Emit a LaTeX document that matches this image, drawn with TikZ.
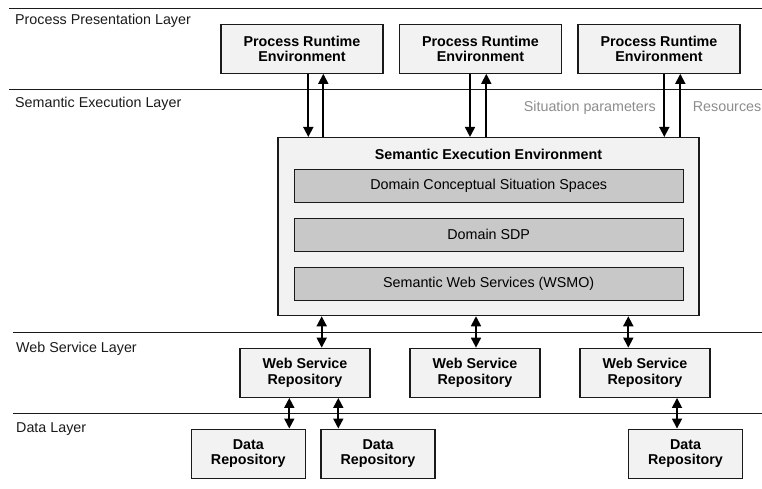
\documentclass[tikz,border=0pt]{standalone}
\usepackage{fontspec}
\setmainfont{Liberation Sans}
\usetikzlibrary{arrows.meta}
\definecolor{boxfill}{HTML}{F2F2F2}
\definecolor{innerfill}{HTML}{C8C8C8}
\definecolor{labgray}{HTML}{8C8C8C}
\definecolor{linec}{HTML}{1A1A1A}
\begin{document}
\begin{tikzpicture}[x=1pt,y=-1pt,
  box/.style={draw=linec, line width=1.3pt, fill=boxfill, inner sep=0pt, align=center,
    font=\bfseries\fontsize{14.3}{15.5}\selectfont},
  innerbox/.style={draw=linec, line width=1.3pt, fill=innerfill, inner sep=0pt,
    minimum width=389pt, minimum height=33pt, font=\fontsize{14.3}{16}\selectfont},
  title/.style={inner sep=0pt, font=\bfseries\fontsize{14.3}{16}\selectfont},
  lbl/.style={inner sep=0pt, text=linec, font=\fontsize{14.3}{16}\selectfont},
  glbl/.style={inner sep=0pt, text=labgray, font=\fontsize{14.3}{16}\selectfont},
  sep/.style={draw=linec, line width=1.1pt},
  arr/.style={draw=black, line width=1.7pt, -{Triangle[width=10pt,length=10pt]}},
  darr/.style={draw=black, line width=1.7pt, {Triangle[width=10pt,length=10pt]}-{Triangle[width=10pt,length=10pt]}}
]
\useasboundingbox (0,0) rectangle (762,489);

% layer separators
\draw[sep] (9,8.3) -- (762,8.3);
\draw[sep] (9,89.3) -- (762,89.3);
\draw[sep] (13,332.3) -- (762,332.3);
\draw[sep] (13,413.3) -- (762,413.3);

% layer labels
\node[lbl, anchor=base west] (l1) at (15,24.5) {Process Presentation Layer};
\node[lbl, anchor=base west] (l2) at (15,108) {Semantic Execution Layer};
\node[lbl, anchor=base west] (l3) at (16,352) {Web Service Layer};
\node[lbl, anchor=base west] (l4) at (16,432) {Data Layer};

% process runtime environments
\node[box, minimum width=162pt, minimum height=49pt] (p1) at (302,48.7) {Process Runtime\\Environment};
\node[box, minimum width=162pt, minimum height=49pt] (p2) at (480.5,48.7) {Process Runtime\\Environment};
\node[box, minimum width=162pt, minimum height=49pt] (p3) at (659,48.7) {Process Runtime\\Environment};

% semantic execution environment
\node[box, minimum width=421pt, minimum height=178pt] (see) at (488.5,226.6) {};
\node[title] (seet) at (488.5,154) {Semantic Execution Environment};
\node[innerbox] (i1) at (488.7,186.1) {Domain Conceptual Situation Spaces};
\node[innerbox] (i2) at (488.7,234.7) {Domain SDP};
\node[innerbox] (i3) at (488.7,283.7) {Semantic Web Services (WSMO)};

% web service repositories
\node[box, minimum width=130pt, minimum height=49pt] (w1) at (305,372.8) {Web Service\\Repository};
\node[box, minimum width=130pt, minimum height=49pt] (w2) at (475,372.8) {Web Service\\Repository};
\node[box, minimum width=130pt, minimum height=49pt] (w3) at (645,372.8) {Web Service\\Repository};

% data repositories
\node[box, minimum width=114pt, minimum height=49pt] (d1) at (248.3,453.7) {Data\\Repository};
\node[box, minimum width=114pt, minimum height=49pt] (d2) at (378,453.7) {Data\\Repository};
\node[box, minimum width=114pt, minimum height=49pt] (d3) at (685.5,453.7) {Data\\Repository};

% annotation labels
\node[glbl, anchor=base west] (sp) at (523.7,112) {Situation parameters};
\node[glbl, anchor=base west] (rs) at (692.7,112) {Resources};

% process <-> semantic arrows
\draw[arr] (p1.south -| 308.3,0) -- (see.north -| 308.3,0);
\draw[arr] (see.north -| 323.3,0) -- (p1.south -| 323.3,0);
\draw[arr] (p2.south -| 470,0) -- (see.north -| 470,0);
\draw[arr] (see.north -| 486.3,0) -- (p2.south -| 486.3,0);
\draw[arr] (p3.south -| 664.3,0) -- (see.north -| 664.3,0);
\draw[arr] (see.north -| 680.3,0) -- (p3.south -| 680.3,0);

% semantic <-> web service
\draw[darr] (see.south -| 321.7,0) -- (w1.north -| 321.7,0);
\draw[darr] (see.south -| 476,0) -- (w2.north -| 476,0);
\draw[darr] (see.south -| 628.3,0) -- (w3.north -| 628.3,0);

% web service <-> data
\draw[darr] (w1.south -| 289.3,0) -- (d1.north -| 289.3,0);
\draw[darr] (w1.south -| 338.3,0) -- (d2.north -| 338.3,0);
\draw[darr] (w3.south -| 677,0) -- (d3.north -| 677,0);
\end{tikzpicture}
\end{document}
